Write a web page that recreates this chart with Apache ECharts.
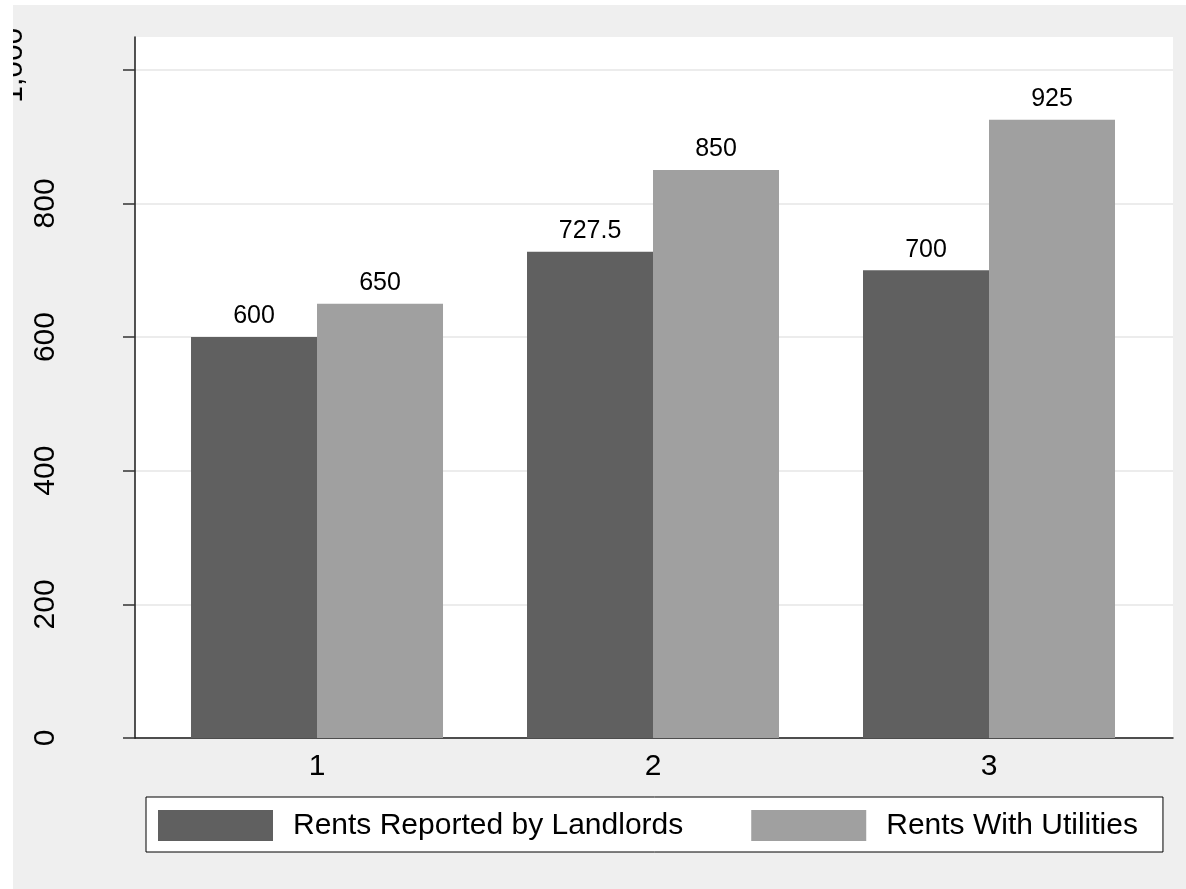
<!DOCTYPE html>
<html>
<head>
<meta charset="utf-8">
<script src="https://cdn.jsdelivr.net/npm/echarts@6/dist/echarts.min.js"></script>
<style>
  html, body { margin: 0; padding: 0; background: #ffffff; width: 1186px; height: 889px; overflow: hidden; }
  #chart { position: absolute; left: 13px; top: 5px; width: 1173px; height: 884px; background: #efefef; }
</style>
</head>
<body>
<div id="chart"></div>
<script>
// ---- data ----
const categories = [1, 2, 3];
const seriesNames = ['Rents Reported by Landlords', 'Rents With Utilities'];
const landlordRents = [600, 727.5, 700];
const utilityRents = [650, 850, 925];
const yTickValues = [0, 200, 400, 600, 800, 1000];
const yTickLabels = ['0', '200', '400', '600', '800', '1,000'];

const FONT = '"Liberation Sans", Arial, Helvetica, sans-serif';
const chart = echarts.init(document.getElementById('chart'), null, { renderer: 'canvas' });

function pairs(vals) { return vals.map((v, i) => [categories[i], v]); }

const option = {
  animation: false,
  backgroundColor: '#efefef',
  textStyle: { fontFamily: FONT },
  grid: {
    left: 122, top: 32, right: 13, bottom: 151,
    containLabel: false,
    outerBoundsMode: 'none',
    show: true, backgroundColor: '#ffffff', borderWidth: 0
  },
  legend: {
    left: 133, top: 792,
    orient: 'horizontal',
    itemWidth: 115, itemHeight: 31, itemGap: 68,
    padding: [13, 25, 11, 12],
    backgroundColor: '#ffffff', borderColor: '#000000', borderWidth: 1,
    icon: 'rect',
    textStyle: { fontFamily: FONT, fontSize: 30, color: '#000000', padding: [0, 0, 0, 15] },
    data: seriesNames
  },
  xAxis: {
    type: 'value',
    min: 0.4583, max: 3.5476,
    axisLine: { show: true, lineStyle: { color: '#1a1a1a', width: 1.5 } },
    axisTick: { show: false },
    splitLine: { show: false },
    axisLabel: {
      customValues: categories,
      formatter: v => String(v),
      fontFamily: FONT, fontSize: 30, color: '#000000', margin: 14
    }
  },
  yAxis: {
    type: 'value',
    min: 0, max: 1049,
    axisLine: { show: true, lineStyle: { color: '#1a1a1a', width: 1.5 } },
    axisTick: { show: true, customValues: yTickValues, length: 12, lineStyle: { color: '#333333', width: 1.5 } },
    splitLine: { show: true, lineStyle: { color: '#e6e6e6', width: 1.5 } },
    axisLabel: {
      customValues: yTickValues,
      rotate: 90,
      margin: 74,
      fontFamily: FONT, fontSize: 30, color: '#000000',
      formatter: function (v) {
        const i = yTickValues.indexOf(v);
        const s = i >= 0 ? yTickLabels[i] : '';
        return v === 1000 ? '{far|' + s + '}' : s;
      },
      rich: {
        far: { fontFamily: FONT, fontSize: 30, color: '#000000', padding: [0, 0, 32, 9] }
      }
    }
  },
  series: [
    {
      name: seriesNames[0], type: 'bar',
      data: pairs(landlordRents),
      barWidth: 126, barGap: '0%',
      itemStyle: { color: '#606060' },
      label: { show: true, position: 'top', distance: 8, fontFamily: FONT, fontSize: 25, color: '#000000' }
    },
    {
      name: seriesNames[1], type: 'bar',
      data: pairs(utilityRents),
      barWidth: 126, barGap: '0%',
      itemStyle: { color: '#a0a0a0' },
      label: { show: true, position: 'top', distance: 8, fontFamily: FONT, fontSize: 25, color: '#000000' }
    }
  ]
};
chart.setOption(option);
</script>
</body>
</html>
